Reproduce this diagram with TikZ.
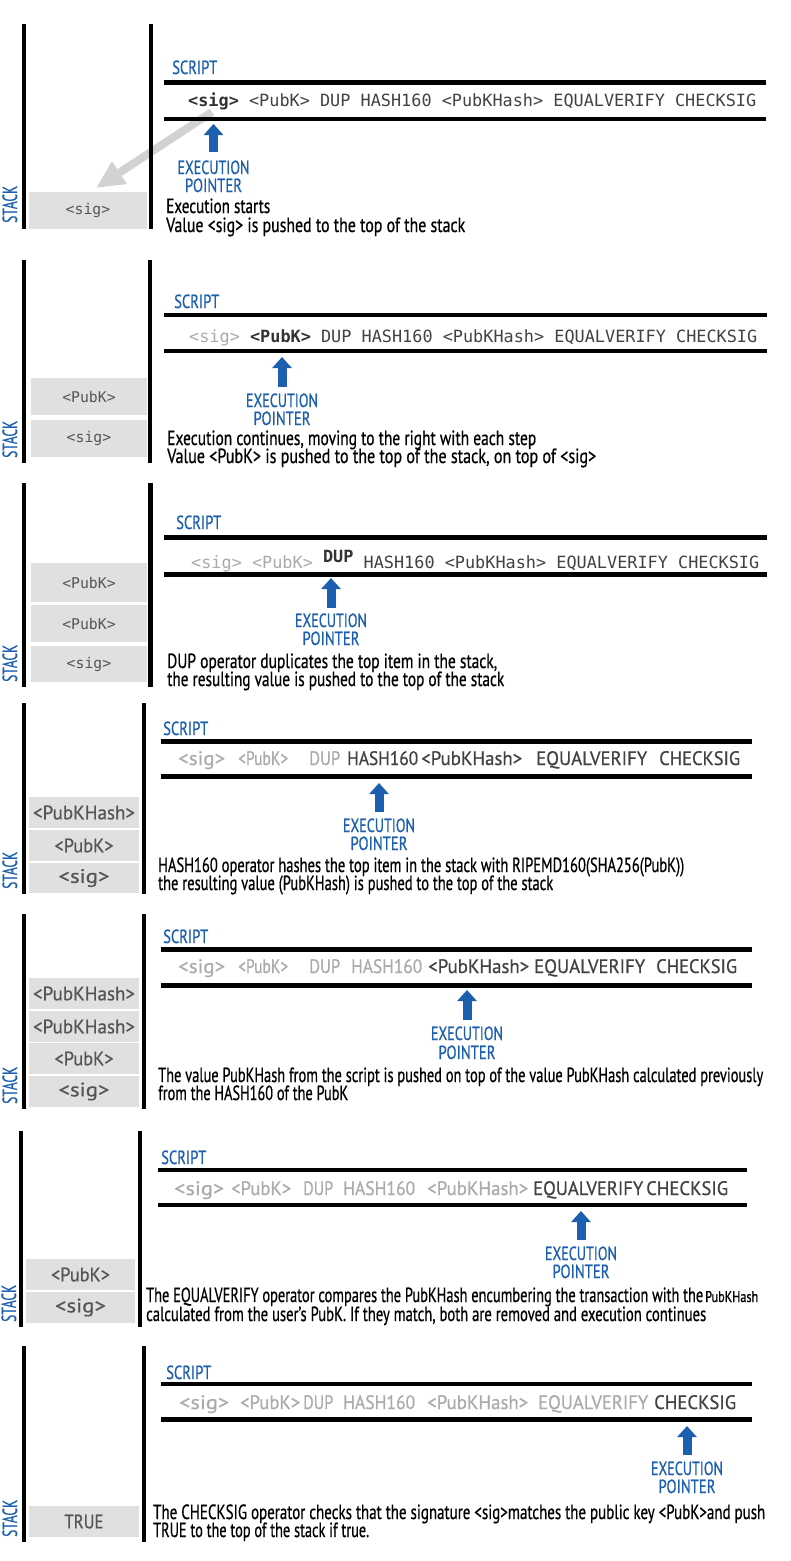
\documentclass[tikz,border=0pt]{standalone}
\usepackage{fontspec}
\setmainfont{PT Sans}[FakeBold=0.7]
\newfontfamily\codefont{DejaVu Sans Mono}
\usetikzlibrary{arrows.meta}

\definecolor{ptrblue}{HTML}{1B5FAE}
\definecolor{cellgray}{HTML}{E0E0E0}
\definecolor{celltext}{HTML}{555555}
\definecolor{donegray}{HTML}{ABABAB}
\definecolor{opgray}{HTML}{424242}
\definecolor{curgray}{HTML}{333333}
\definecolor{pushgray}{HTML}{D2D2D2}

% squeeze a piece of text to a given width, keeping its height
\newcommand\fitw[2]{\resizebox{#1pt}{\height}{#2}}
\newcommand\capsize{\fontsize{20.5}{23}\selectfont}
\newcommand\bluesize{\fontsize{19}{22}\selectfont}
\newcommand\wordsize{\fontsize{19.5}{22}\selectfont}
\newcommand\smallcap{\fontsize{15.5}{18}\selectfont}
\newcommand\codesize{\codefont\fontsize{16.85}{20}\selectfont}
\newcommand\cellcode{\codefont\fontsize{14.8}{17}\selectfont}

\tikzset{
  bar/.style={line width=4.5pt},
  rule/.style={line width=4.5pt},
  cell/.style={fill=cellgray, inner sep=0pt, text=celltext},
  capline/.style={inner sep=0pt, anchor=base west, font=\capsize},
  bluelabel/.style={inner sep=0pt, text=ptrblue, font=\bluesize},
  stacklabel/.style={inner sep=0pt, text=ptrblue, font=\capsize, rotate=90, anchor=base west},
  scriptword/.style={inner sep=0pt, anchor=base west, font=\wordsize, text=opgray},
  doneword/.style={scriptword, text=donegray},
  codeline/.style={inner sep=0pt, anchor=base west, font=\codesize, text=opgray},
  ptrarrow/.style={draw=ptrblue, line width=9pt, -{Triangle[width=19pt,length=11pt]}},
  pusharrow/.style={draw=pushgray, line width=8pt, -{Triangle[width=25pt,length=28pt]}},
}

\begin{document}
\begin{tikzpicture}[x=1pt,y=-1pt]
\fill[white] (0,0) rectangle (791,1561);
\useasboundingbox (0,0) rectangle (791,1561);

% ---------- step 1: <sig> pushed ----------
\coordinate (push1src) at (212,112);
\coordinate (push1dst) at (96,188);
\draw[pusharrow] (push1src) -- (push1dst);
\draw[bar] (24,24) -- (24,229);
\draw[bar] (151,24) -- (151,229);
\draw[rule] (164,82.5) -- (766,82.5);
\draw[rule] (164,119) -- (766,119);
\node[bluelabel, anchor=base west] (p1script) at (172,74) {\fitw{45}{SCRIPT}};
\node[codeline] (p1code) at (188,106) {{\color{curgray}\bfseries <sig>} <PubK> DUP HASH160 <PubKHash> EQUALVERIFY CHECKSIG};
\coordinate (p1tail) at (213.5,152);
\coordinate (p1tip) at (213.5,124);
\draw[ptrarrow] (p1tail) -- (p1tip);
\node[bluelabel, anchor=base] (p1exec) at (213.5,174) {\fitw{72}{EXECUTION}};
\node[bluelabel, anchor=base] (p1ptr) at (213.5,192) {\fitw{57}{POINTER}};
\node[cell, minimum width=118pt, minimum height=37pt, font=\cellcode] (p1c1) at (88,210.5) {<sig>};
\node[stacklabel] (p1stack) at (17,223) {\fitw{37}{STACK}};
\node[capline] (p1t1) at (166,213) {\fitw{104}{Execution starts}};
\node[capline] (p1t2) at (166,232) {\fitw{299}{Value <sig> is pushed to the top of the stack}};

% ---------- step 2: <PubK> pushed ----------
\draw[bar] (24,260) -- (24,463);
\draw[bar] (150,260) -- (150,463);
\draw[rule] (164,315) -- (767,315);
\draw[rule] (164,351) -- (767,351);
\node[bluelabel, anchor=base west] (p2script) at (174,308) {\fitw{45}{SCRIPT}};
\node[codeline] (p2code) at (189,342) {{\color{donegray}<sig>} {\color{curgray}\bfseries <PubK>} DUP HASH160 <PubKHash> EQUALVERIFY CHECKSIG};
\coordinate (p2tail) at (282,387);
\coordinate (p2tip) at (282,357);
\draw[ptrarrow] (p2tail) -- (p2tip);
\node[bluelabel, anchor=base] (p2exec) at (282,407) {\fitw{72}{EXECUTION}};
\node[bluelabel, anchor=base] (p2ptr) at (282,425) {\fitw{57}{POINTER}};
\node[cell, minimum width=116pt, minimum height=37pt, font=\cellcode] (p2c1) at (89,396.5) {<PubK>};
\node[cell, minimum width=116pt, minimum height=37pt, font=\cellcode] (p2c2) at (89,438.5) {<sig>};
\node[stacklabel] (p2stack) at (17,458) {\fitw{37}{STACK}};
\node[capline] (p2t1) at (167,445) {\fitw{369}{Execution continues, moving to the right with each step}};
\node[capline] (p2t2) at (167,463) {\fitw{429}{Value <PubK> is pushed to the top of the stack, on top of <sig>}};

% ---------- step 3: DUP ----------
\draw[bar] (24,483) -- (24,687);
\draw[bar] (150.5,483) -- (150.5,687);
\draw[rule] (164,537.5) -- (767,537.5);
\draw[rule] (164,574.5) -- (767,574.5);
\node[bluelabel, anchor=base west] (p3script) at (176,529) {\fitw{45}{SCRIPT}};
\node[codeline] (p3code) at (191,568) {{\color{donegray}<sig> <PubK>} \raisebox{6pt}{\color{curgray}\bfseries DUP} HASH160 <PubKHash> EQUALVERIFY CHECKSIG};
\coordinate (p3tail) at (331,608);
\coordinate (p3tip) at (331,578);
\draw[ptrarrow] (p3tail) -- (p3tip);
\node[bluelabel, anchor=base] (p3exec) at (331,627) {\fitw{72}{EXECUTION}};
\node[bluelabel, anchor=base] (p3ptr) at (331,645) {\fitw{57}{POINTER}};
\node[cell, minimum width=116pt, minimum height=39pt, font=\cellcode] (p3c1) at (89,582.5) {<PubK>};
\node[cell, minimum width=116pt, minimum height=37pt, font=\cellcode] (p3c2) at (89,623.5) {<PubK>};
\node[cell, minimum width=116pt, minimum height=36pt, font=\cellcode] (p3c3) at (89,664) {<sig>};
\node[stacklabel] (p3stack) at (17,682) {\fitw{37}{STACK}};
\node[capline] (p3t1) at (167,668) {\fitw{330}{DUP operator duplicates the top item in the stack,}};
\node[capline] (p3t2) at (167,686) {\fitw{337}{the resulting value is pushed to the top of the stack}};

% ---------- step 4: HASH160 ----------
\draw[bar] (24,703) -- (24,894);
\draw[bar] (144,703) -- (144,894);
\draw[rule] (161,741.5) -- (752,741.5);
\draw[rule] (161,776.5) -- (752,776.5);
\node[bluelabel, anchor=base west] (p4script) at (163,735) {\fitw{45}{SCRIPT}};
\node[doneword] (p4w1) at (178,765) {\fitw{47}{<sig>}};
\node[doneword] (p4w2) at (238,765) {\fitw{50}{<PubK>}};
\node[doneword] (p4w3) at (309,765) {\fitw{31}{DUP}};
\node[scriptword] (p4w4) at (347,765) {\fitw{71}{HASH160}};
\node[scriptword] (p4w5) at (421,765) {\fitw{101}{<PubKHash>}};
\node[scriptword] (p4w6) at (536,765) {\fitw{111}{EQUALVERIFY}};
\node[scriptword] (p4w7) at (659,765) {\fitw{81}{CHECKSIG}};
\coordinate (p4tail) at (379,812);
\coordinate (p4tip) at (379,783);
\draw[ptrarrow] (p4tail) -- (p4tip);
\node[bluelabel, anchor=base] (p4exec) at (379,832) {\fitw{72}{EXECUTION}};
\node[bluelabel, anchor=base] (p4ptr) at (379,850) {\fitw{57}{POINTER}};
\node[cell, minimum width=110pt, minimum height=31pt, font=\wordsize] (p4c1) at (84,812.5) {\fitw{102}{<PubKHash>}};
\node[cell, minimum width=110pt, minimum height=31pt, font=\wordsize] (p4c2) at (84,845.5) {\fitw{59}{<PubK>}};
\node[cell, minimum width=110pt, minimum height=30pt, font=\wordsize] (p4c3) at (84,878) {\fitw{51}{<sig>}};
\node[stacklabel] (p4stack) at (17,889) {\fitw{37}{STACK}};
\node[capline] (p4t1) at (158,872) {\fitw{526}{HASH160 operator hashes the top item in the stack with RIPEMD160(SHA256(PubK))}};
\node[capline] (p4t2) at (158,890) {\fitw{395}{the resulting value (PubKHash) is pushed to the top of the stack}};

% ---------- step 5: <PubKHash> pushed ----------
\draw[bar] (24,914) -- (24,1109);
\draw[bar] (144,914) -- (144,1109);
\draw[rule] (161,949.5) -- (752,949.5);
\draw[rule] (161,985.5) -- (752,985.5);
\node[bluelabel, anchor=base west] (p5script) at (163,943) {\fitw{45}{SCRIPT}};
\node[doneword] (p5w1) at (178,973) {\fitw{47}{<sig>}};
\node[doneword] (p5w2) at (238,973) {\fitw{50}{<PubK>}};
\node[doneword] (p5w3) at (309,973) {\fitw{31}{DUP}};
\node[doneword] (p5w4) at (351,973) {\fitw{71}{HASH160}};
\node[scriptword] (p5w5) at (428,973) {\fitw{101}{<PubKHash>}};
\node[scriptword] (p5w6) at (534,973) {\fitw{111}{EQUALVERIFY}};
\node[scriptword] (p5w7) at (656,973) {\fitw{81}{CHECKSIG}};
\coordinate (p5tail) at (467,1020);
\coordinate (p5tip) at (467,990);
\draw[ptrarrow] (p5tail) -- (p5tip);
\node[bluelabel, anchor=base] (p5exec) at (467,1040) {\fitw{72}{EXECUTION}};
\node[bluelabel, anchor=base] (p5ptr) at (467,1059) {\fitw{57}{POINTER}};
\node[cell, minimum width=110pt, minimum height=31pt, font=\wordsize] (p5c1) at (84,993.5) {\fitw{102}{<PubKHash>}};
\node[cell, minimum width=110pt, minimum height=31pt, font=\wordsize] (p5c2) at (84,1026.5) {\fitw{102}{<PubKHash>}};
\node[cell, minimum width=110pt, minimum height=31pt, font=\wordsize] (p5c3) at (84,1058.5) {\fitw{59}{<PubK>}};
\node[cell, minimum width=110pt, minimum height=31pt, font=\wordsize] (p5c4) at (84,1091.5) {\fitw{51}{<sig>}};
\node[stacklabel] (p5stack) at (17,1104) {\fitw{37}{STACK}};
\node[capline] (p5t1) at (158,1082) {\fitw{605}{The value PubKHash from the script is pushed on top of the value PubKHash calculated previously}};
\node[capline] (p5t2) at (158,1100) {\fitw{190}{from the HASH160 of the PubK}};

% ---------- step 6: EQUALVERIFY ----------
\draw[bar] (21,1131) -- (21,1327);
\draw[bar] (140,1131) -- (140,1327);
\draw[rule] (158,1170) -- (747,1170);
\draw[rule] (158,1205) -- (747,1205);
\node[bluelabel, anchor=base west] (p6script) at (161,1164) {\fitw{45}{SCRIPT}};
\node[doneword] (p6w1) at (174,1195) {\fitw{50}{<sig>}};
\node[doneword] (p6w2) at (231,1195) {\fitw{60}{<PubK>}};
\node[doneword] (p6w3) at (303,1195) {\fitw{30}{DUP}};
\node[doneword] (p6w4) at (343,1195) {\fitw{72}{HASH160}};
\node[doneword] (p6w5) at (427,1195) {\fitw{101}{<PubKHash>}};
\node[scriptword] (p6w6) at (533,1195) {\fitw{110}{EQUALVERIFY}};
\node[scriptword] (p6w7) at (646,1195) {\fitw{82}{CHECKSIG}};
\coordinate (p6tail) at (581,1240);
\coordinate (p6tip) at (581,1211);
\draw[ptrarrow] (p6tail) -- (p6tip);
\node[bluelabel, anchor=base] (p6exec) at (581,1260) {\fitw{72}{EXECUTION}};
\node[bluelabel, anchor=base] (p6ptr) at (581,1278) {\fitw{57}{POINTER}};
\node[cell, minimum width=109pt, minimum height=31pt, font=\wordsize] (p6c1) at (80.5,1274.5) {\fitw{59}{<PubK>}};
\node[cell, minimum width=109pt, minimum height=31pt, font=\wordsize] (p6c2) at (80.5,1307.5) {\fitw{51}{<sig>}};
\node[stacklabel] (p6stack) at (16,1322) {\fitw{37}{STACK}};
\node[capline] (p6t1) at (146,1302) {\fitw{557}{The EQUALVERIFY operator compares the PubKHash encumbering the transaction with the}};
\node[capline, font=\smallcap] (p6t1b) at (705,1302) {\fitw{53}{PubKHash}};
\node[capline] (p6t2) at (146,1321) {\fitw{560}{calculated from the user’s PubK. If they match, both are removed and execution continues}};

% ---------- step 7: CHECKSIG ----------
\draw[bar] (24,1346) -- (24,1542);
\draw[bar] (144,1346) -- (144,1542);
\draw[rule] (161,1384) -- (752,1384);
\draw[rule] (161,1419.5) -- (752,1419.5);
\node[bluelabel, anchor=base west] (p7script) at (166,1379) {\fitw{45}{SCRIPT}};
\node[doneword] (p7w1) at (179,1409) {\fitw{50}{<sig>}};
\node[doneword] (p7w2) at (240,1409) {\fitw{60}{<PubK>}};
\node[doneword] (p7w3) at (303,1409) {\fitw{30}{DUP}};
\node[doneword] (p7w4) at (343,1409) {\fitw{72}{HASH160}};
\node[doneword] (p7w5) at (427,1409) {\fitw{101}{<PubKHash>}};
\node[doneword] (p7w6) at (538,1409) {\fitw{110}{EQUALVERIFY}};
\node[scriptword] (p7w7) at (654,1409) {\fitw{82}{CHECKSIG}};
\coordinate (p7tail) at (687,1455);
\coordinate (p7tip) at (687,1426);
\draw[ptrarrow] (p7tail) -- (p7tip);
\node[bluelabel, anchor=base] (p7exec) at (687,1475) {\fitw{72}{EXECUTION}};
\node[bluelabel, anchor=base] (p7ptr) at (687,1493) {\fitw{57}{POINTER}};
\node[cell, minimum width=110pt, minimum height=31pt, font=\wordsize] (p7c1) at (84,1521.5) {\fitw{39}{TRUE}};
\node[stacklabel] (p7stack) at (17,1537) {\fitw{37}{STACK}};
\node[capline] (p7t1) at (153,1519) {\fitw{612}{The CHECKSIG operator checks that the signature <sig>matches the public key <PubK>and push}};
\node[capline] (p7t2) at (153,1537) {\fitw{216}{TRUE to the top of the stack if true.}};
\end{tikzpicture}
\end{document}
